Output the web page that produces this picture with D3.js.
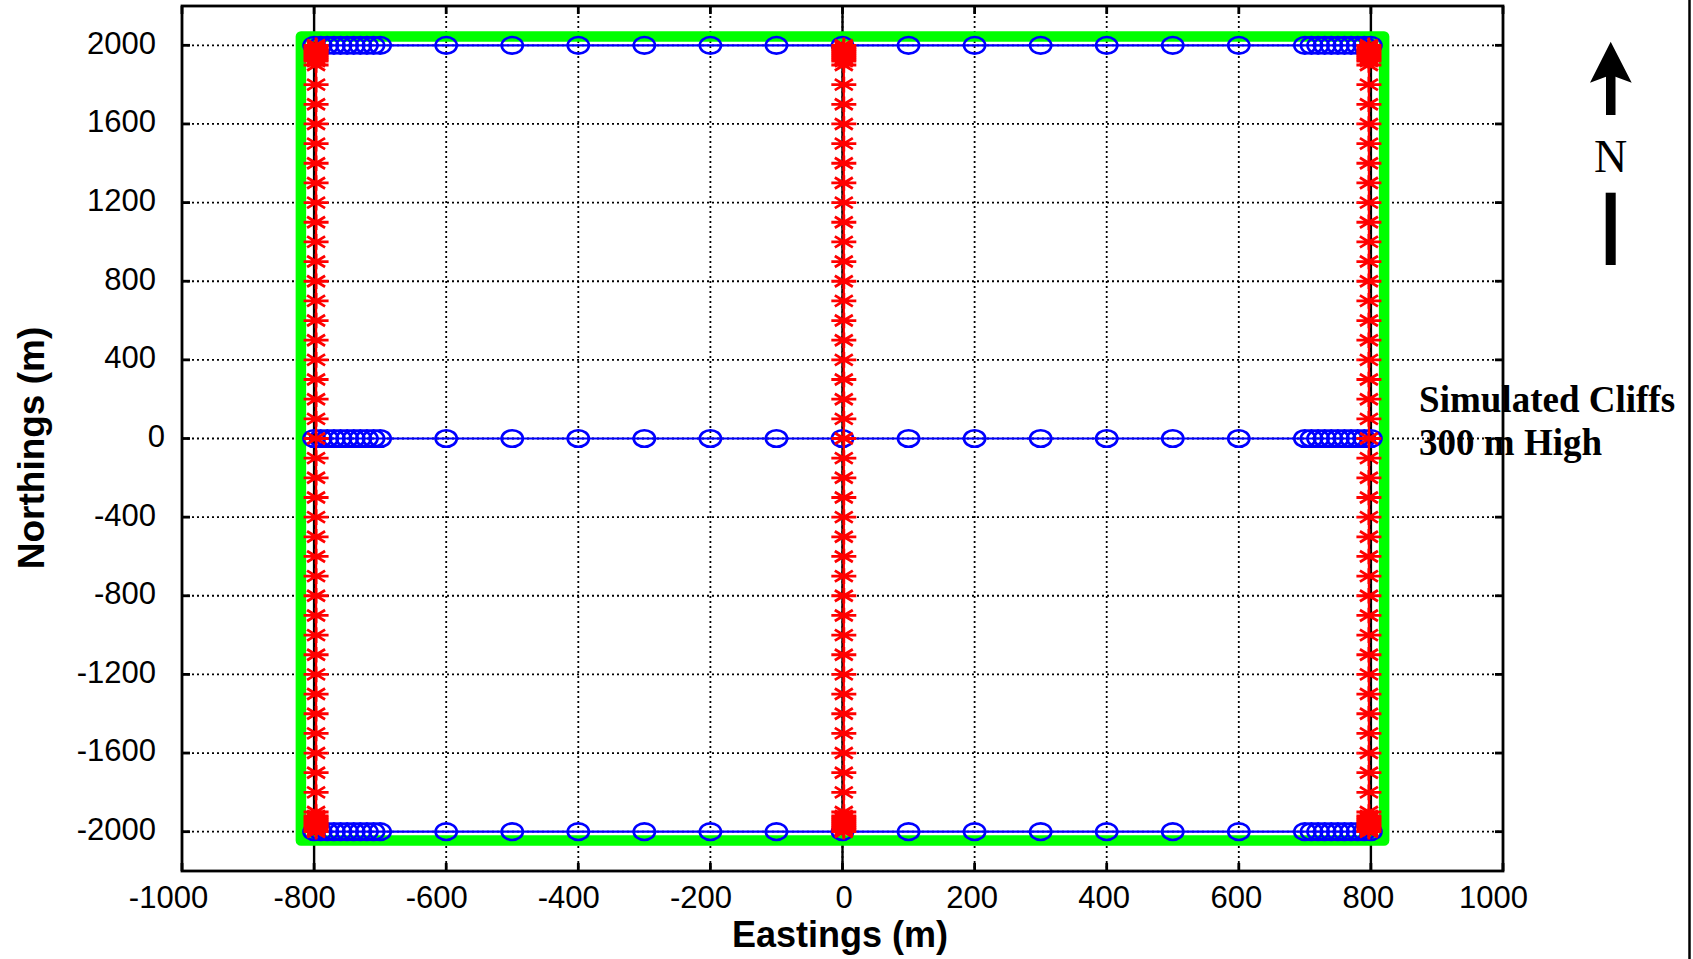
<!DOCTYPE html>
<html>
<head>
<meta charset="utf-8">
<script src="https://cdn.jsdelivr.net/npm/d3@7"></script>
<style>
  html, body { margin: 0; padding: 0; background: #fff; }
  svg { display: block; }
</style>
</head>
<body>
<svg id="chart" width="1693" height="959"></svg>
<script>
// ---------------- data ----------------
const xTicks = [-1000, -800, -600, -400, -200, 0, 200, 400, 600, 800, 1000];
const yTicks = [-2000, -1600, -1200, -800, -400, 0, 400, 800, 1200, 1600, 2000];

// black cliff/reference lines (eastings)
const cliffLinesX = [-800, 0, 800];

// green survey boundary (corners)
const boundaryX = [-820, 820, 820, -820];
const boundaryY = [2045, 2045, -2045, -2045];

// blue E-W receiver lines (northings) and station eastings
const blueLinesY = [2000, 0, -2000];
const blueStationsX = [-800, -790, -780, -770, -760, -750, -740, -730, -720, -710, -700,
  -600, -500, -400, -300, -200, -100, 0, 100, 200, 300, 400, 500, 600,
  700, 710, 720, 730, 740, 750, 760, 770, 780, 790, 800];

// red N-S source lines (eastings) and station northings
const redLinesX = [-797, 2, 797];
const redStationsY = [-2000, -1990, -1980, -1970, -1960, -1950, -1940, -1930, -1920,
  -1900, -1800, -1700, -1600, -1500, -1400, -1300, -1200, -1100, -1000,
  -900, -800, -700, -600, -500, -400, -300, -200, -100, 0,
  100, 200, 300, 400, 500, 600, 700, 800, 900, 1000,
  1100, 1200, 1300, 1400, 1500, 1600, 1700, 1800, 1900,
  1920, 1930, 1940, 1950, 1960, 1970, 1980, 1990, 2000];

const annotation = { x: 873, y: 136, lines: ["Simulated Cliffs", "300 m High"] };

// ---------------- layout ----------------
const svg = d3.select("#chart");
const pL = 182, pR = 1503, pT = 6, pB = 871;
const x = d3.scaleLinear().domain([-1000, 1000]).range([pL, pR]);
const y = d3.scaleLinear().domain([-2200, 2200]).range([pB, pT]);

const sans = "'Liberation Sans', Arial, sans-serif";
const serif = "'Liberation Serif', 'Times New Roman', serif";
const fmt = d => String(d);

// annotation text (drawn below grid & frame)
const ann = svg.append("text")
  .attr("x", x(annotation.x)).attr("y", y(annotation.y))
  .attr("font-family", serif).attr("font-weight", "bold")
  .attr("font-size", 37).attr("fill", "#000");
ann.selectAll("tspan").data(annotation.lines).join("tspan")
  .attr("x", x(annotation.x))
  .attr("dy", (d, i) => i === 0 ? 0 : 43.5)
  .text(d => d);

// grid
const grid = svg.append("g").attr("stroke", "#000").attr("stroke-width", 1.8)
  .attr("stroke-dasharray", "2,3");
grid.selectAll("line.gx").data(xTicks.filter(v => v > -1000 && v < 1000)).join("line")
  .attr("class", "gx")
  .attr("x1", d => x(d)).attr("x2", d => x(d)).attr("y1", pT).attr("y2", pB);
grid.selectAll("line.gy").data(yTicks).join("line")
  .attr("class", "gy")
  .attr("y1", d => y(d)).attr("y2", d => y(d)).attr("x1", pL).attr("x2", pR);

// black solid lines
svg.append("g").selectAll("line").data(cliffLinesX).join("line")
  .attr("x1", d => x(d)).attr("x2", d => x(d))
  .attr("y1", y(2200)).attr("y2", y(-2200))
  .attr("stroke", "#000").attr("stroke-width", 2.4);

// green boundary
const bpts = boundaryX.map((v, i) => [x(v), y(boundaryY[i])]);
svg.append("path")
  .attr("d", d3.line()(bpts) + "Z")
  .attr("fill", "none").attr("stroke", "#00ff00").attr("stroke-width", 10.5)
  .attr("stroke-linejoin", "round");

// blue lines and circles
const blue = "#0000ff";
const gb = svg.append("g");
blueLinesY.forEach(yv => {
  gb.append("line")
    .attr("x1", x(d3.min(blueStationsX))).attr("x2", x(d3.max(blueStationsX)))
    .attr("y1", y(yv)).attr("y2", y(yv))
    .attr("stroke", blue).attr("stroke-width", 2.2);
  gb.append("g").selectAll("ellipse").data(blueStationsX).join("ellipse")
    .attr("cx", d => x(d)).attr("cy", y(yv))
    .attr("rx", 10.6).attr("ry", 8.3)
    .attr("fill", "none").attr("stroke", blue).attr("stroke-width", 2.6);
});

// red lines and asterisks
const red = "#ff0000";
const gr = svg.append("g");
const ast = "M-12.5,0H12.5M0,-7.8V7.8M-9,-5.5L9,5.5M-9,5.5L9,-5.5";
redLinesX.forEach(xv => {
  gr.append("line")
    .attr("x1", x(xv)).attr("x2", x(xv))
    .attr("y1", y(d3.max(redStationsY))).attr("y2", y(d3.min(redStationsY)))
    .attr("stroke", red).attr("stroke-width", 2.2);
  gr.append("g").selectAll("path").data(redStationsY).join("path")
    .attr("transform", d => `translate(${x(xv)},${y(d)})`)
    .attr("d", ast)
    .attr("fill", "none").attr("stroke", red).attr("stroke-width", 2.8);
});

// axes frame
const fw = 2.8;
svg.append("rect").attr("x", pL).attr("y", pT)
  .attr("width", pR - pL).attr("height", pB - pT)
  .attr("fill", "none").attr("stroke", "#000").attr("stroke-width", fw);

const ticks = svg.append("g").attr("stroke", "#000").attr("stroke-width", fw);
const tl = 8;
xTicks.forEach(v => {
  ticks.append("line").attr("x1", x(v)).attr("x2", x(v)).attr("y1", pB).attr("y2", pB - tl);
  ticks.append("line").attr("x1", x(v)).attr("x2", x(v)).attr("y1", pT).attr("y2", pT + tl);
});
yTicks.forEach(v => {
  ticks.append("line").attr("y1", y(v)).attr("y2", y(v)).attr("x1", pL).attr("x2", pL + tl);
  ticks.append("line").attr("y1", y(v)).attr("y2", y(v)).attr("x1", pR).attr("x2", pR - tl);
});

// tick labels via d3 axes
const xShift = { 1: 1, 3: -3, 4: -10, 5: -14 };
const xAxis = d3.axisBottom(x).tickValues(xTicks).tickSize(0).tickPadding(15).tickFormat(fmt);
const gx = svg.append("g").attr("transform", `translate(0,${pB})`).call(xAxis);
gx.select(".domain").remove();
gx.selectAll("text").attr("font-family", sans).attr("font-size", 31).attr("fill", "#000")
  .attr("dx", d => xShift[String(d).length] || 0);

const yAxis = d3.axisLeft(y).tickValues(yTicks).tickSize(0).tickPadding(17).tickFormat(fmt);
const gy = svg.append("g").attr("transform", `translate(${pL},-2)`).call(yAxis);
gy.select(".domain").remove();
gy.selectAll("text").attr("font-family", sans).attr("font-size", 31).attr("fill", "#000")
  .attr("dx", d => d === 0 ? 0 : -9);

// axis titles
svg.append("text").attr("x", 840).attr("y", 947)
  .attr("text-anchor", "middle").attr("font-family", sans).attr("font-weight", "bold")
  .attr("font-size", 36).text("Eastings (m)");
svg.append("text").attr("transform", "translate(44,448) rotate(-90)")
  .attr("text-anchor", "middle").attr("font-family", sans).attr("font-weight", "bold")
  .attr("font-size", 37).text("Northings (m)");

// north arrow
const na = svg.append("g").attr("fill", "#000");
na.append("path").attr("d", "M1610.7,41.7 L1631.7,82.7 L1610.7,75 L1590,82.7 Z");
na.append("rect").attr("x", 1606).attr("y", 74).attr("width", 9.5).attr("height", 41);
na.append("text").attr("x", 1610.5).attr("y", 171.5).attr("text-anchor", "middle")
  .attr("font-family", serif).attr("font-size", 46).text("N");
na.append("rect").attr("x", 1605.7).attr("y", 192.7).attr("width", 10).attr("height", 72.3);

// right outer line
svg.append("line").attr("x1", 1689.5).attr("x2", 1689.5).attr("y1", 0).attr("y2", 959)
  .attr("stroke", "#000").attr("stroke-width", 2.5);
</script>
</body>
</html>
